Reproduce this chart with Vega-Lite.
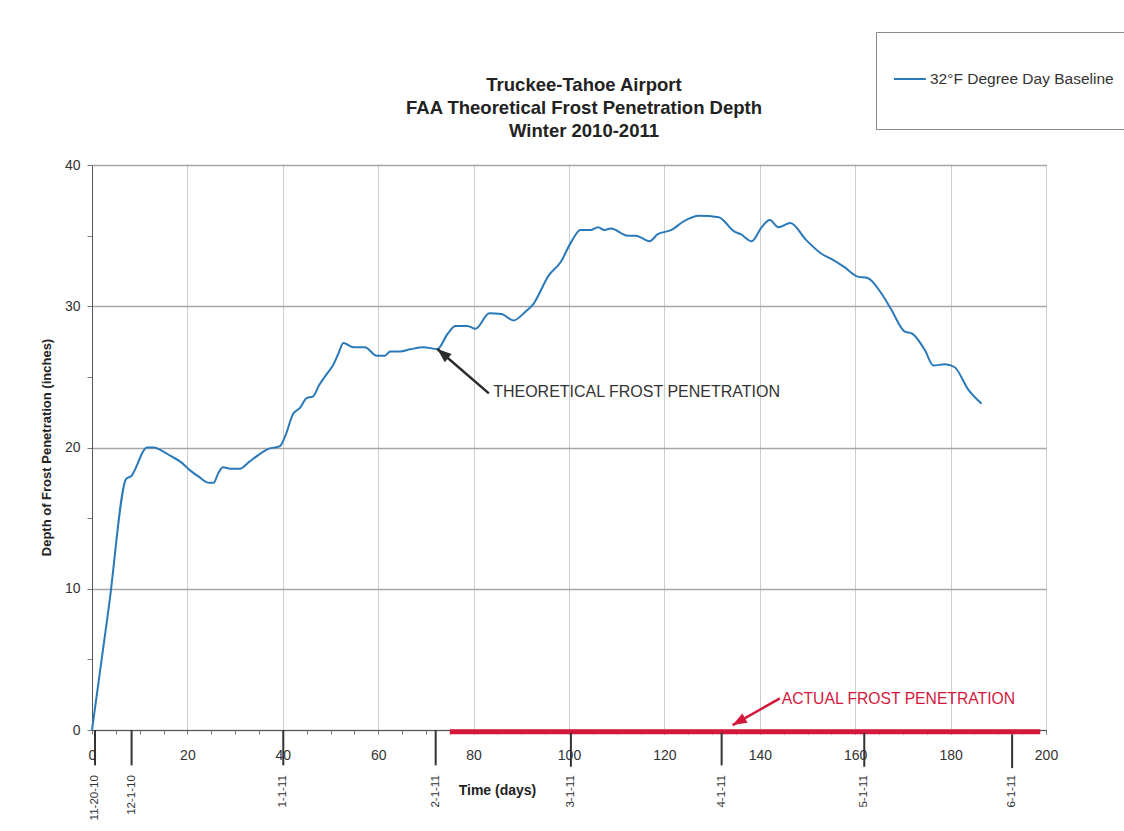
{
  "$schema": "https://vega.github.io/schema/vega-lite/v6.json",
  "width": 954,
  "height": 565,
  "autosize": "none",
  "padding": {"left": 92, "top": 165, "right": 78, "bottom": 136},
  "background": "white",
  "config": {
    "font": "Liberation Sans",
    "view": {"stroke": "#9a9a9a", "strokeWidth": 1}
  },
  "title": {
    "text": ["Truckee-Tahoe Airport", "FAA Theoretical Frost Penetration Depth", "Winter 2010-2011"],
    "fontSize": 18.5,
    "fontWeight": "bold",
    "color": "#222222",
    "lineHeight": 23,
    "anchor": "middle",
    "dx": 15,
    "dy": 133,
    "offset": 24
  },
  "encoding": {
    "x": {
      "field": "d",
      "type": "quantitative",
      "scale": {"domain": [0, 200], "nice": false, "zero": false},
      "axis": {
        "values": [0,5,10,15,20,25,30,35,40,45,50,55,60,65,70,75,80,85,90,95,100,105,110,115,120,125,130,135,140,145,150,155,160,165,170,175,180,185,190,195,200],
        "labelExpr": "datum.value % 20 === 0 ? datum.label : ''",
        "gridColor": {"condition": {"test": "datum.value % 20 === 0", "value": "#cccccc"}, "value": "rgba(0,0,0,0)"},
        "tickSize": 4,
        "tickColor": "#777777",
        "domainColor": "#555555",
        "labelFontSize": 14,
        "labelColor": "#333333",
        "labelPadding": 14,
        "labelFlush": false,
        "labelOverlap": false,
        "title": "Time (days)",
        "titleFontSize": 14,
        "titleFontWeight": "bold",
        "titleColor": "#222222",
        "titleX": 405,
        "titleY": 60,
        "titleAlign": "center",
        "titleBaseline": "middle"
      }
    },
    "y": {
      "field": "v",
      "type": "quantitative",
      "scale": {"domain": [0, 40], "nice": false, "zero": false},
      "axis": {
        "values": [0,5,10,15,20,25,30,35,40],
        "labelExpr": "datum.value % 10 === 0 ? datum.label : ''",
        "gridColor": {"condition": {"test": "datum.value % 10 === 0", "value": "#a6a6a6"}, "value": "rgba(0,0,0,0)"},
        "gridWidth": 1.3,
        "tickSize": 5,
        "tickColor": "#777777",
        "domainColor": "#555555",
        "labelFontSize": 14,
        "labelColor": "#333333",
        "labelPadding": 7,
        "title": "Depth of Frost Penetration (inches)",
        "titleFontSize": 13,
        "titleFontWeight": "bold",
        "titleColor": "#222222",
        "titleAngle": 270,
        "titleX": -46,
        "titleY": 282,
        "titleAlign": "center",
        "titleBaseline": "middle"
      }
    }
  },
  "layer": [
    {
      "data": {"values": [
        {"d": 0, "v": 0, "series": "32°F Degree Day Baseline"},
        {"d": 3.6, "v": 8.9, "series": "32°F Degree Day Baseline"},
        {"d": 7.2, "v": 17.8, "series": "32°F Degree Day Baseline"},
        {"d": 8.3, "v": 18.0, "series": "32°F Degree Day Baseline"},
        {"d": 9.5, "v": 18.8, "series": "32°F Degree Day Baseline"},
        {"d": 10.5, "v": 19.6, "series": "32°F Degree Day Baseline"},
        {"d": 11.5, "v": 20.0, "series": "32°F Degree Day Baseline"},
        {"d": 13, "v": 20.0, "series": "32°F Degree Day Baseline"},
        {"d": 14.5, "v": 19.8, "series": "32°F Degree Day Baseline"},
        {"d": 16.5, "v": 19.4, "series": "32°F Degree Day Baseline"},
        {"d": 18.5, "v": 19.0, "series": "32°F Degree Day Baseline"},
        {"d": 20.5, "v": 18.4, "series": "32°F Degree Day Baseline"},
        {"d": 22.5, "v": 17.9, "series": "32°F Degree Day Baseline"},
        {"d": 24.5, "v": 17.5, "series": "32°F Degree Day Baseline"},
        {"d": 25.5, "v": 17.5, "series": "32°F Degree Day Baseline"},
        {"d": 26.5, "v": 18.2, "series": "32°F Degree Day Baseline"},
        {"d": 27.5, "v": 18.6, "series": "32°F Degree Day Baseline"},
        {"d": 29, "v": 18.5, "series": "32°F Degree Day Baseline"},
        {"d": 31, "v": 18.5, "series": "32°F Degree Day Baseline"},
        {"d": 33, "v": 19.0, "series": "32°F Degree Day Baseline"},
        {"d": 35, "v": 19.5, "series": "32°F Degree Day Baseline"},
        {"d": 37, "v": 19.9, "series": "32°F Degree Day Baseline"},
        {"d": 39.4, "v": 20.1, "series": "32°F Degree Day Baseline"},
        {"d": 40.5, "v": 20.8, "series": "32°F Degree Day Baseline"},
        {"d": 42.2, "v": 22.4, "series": "32°F Degree Day Baseline"},
        {"d": 43.6, "v": 22.8, "series": "32°F Degree Day Baseline"},
        {"d": 45, "v": 23.5, "series": "32°F Degree Day Baseline"},
        {"d": 46.3, "v": 23.6, "series": "32°F Degree Day Baseline"},
        {"d": 47.6, "v": 24.4, "series": "32°F Degree Day Baseline"},
        {"d": 49.2, "v": 25.2, "series": "32°F Degree Day Baseline"},
        {"d": 50.5, "v": 25.8, "series": "32°F Degree Day Baseline"},
        {"d": 51.6, "v": 26.6, "series": "32°F Degree Day Baseline"},
        {"d": 52.7, "v": 27.4, "series": "32°F Degree Day Baseline"},
        {"d": 54.8, "v": 27.1, "series": "32°F Degree Day Baseline"},
        {"d": 57.2, "v": 27.1, "series": "32°F Degree Day Baseline"},
        {"d": 59.7, "v": 26.5, "series": "32°F Degree Day Baseline"},
        {"d": 61.4, "v": 26.5, "series": "32°F Degree Day Baseline"},
        {"d": 62.5, "v": 26.8, "series": "32°F Degree Day Baseline"},
        {"d": 64.6, "v": 26.8, "series": "32°F Degree Day Baseline"},
        {"d": 66.7, "v": 26.95, "series": "32°F Degree Day Baseline"},
        {"d": 69.5, "v": 27.1, "series": "32°F Degree Day Baseline"},
        {"d": 72.4, "v": 26.97, "series": "32°F Degree Day Baseline"},
        {"d": 74.6, "v": 28.07, "series": "32°F Degree Day Baseline"},
        {"d": 76.2, "v": 28.6, "series": "32°F Degree Day Baseline"},
        {"d": 78.7, "v": 28.6, "series": "32°F Degree Day Baseline"},
        {"d": 80.4, "v": 28.4, "series": "32°F Degree Day Baseline"},
        {"d": 83.3, "v": 29.5, "series": "32°F Degree Day Baseline"},
        {"d": 85.8, "v": 29.45, "series": "32°F Degree Day Baseline"},
        {"d": 88.4, "v": 29.0, "series": "32°F Degree Day Baseline"},
        {"d": 90.8, "v": 29.6, "series": "32°F Degree Day Baseline"},
        {"d": 92.4, "v": 30.1, "series": "32°F Degree Day Baseline"},
        {"d": 95.8, "v": 32.2, "series": "32°F Degree Day Baseline"},
        {"d": 98.3, "v": 33.15, "series": "32°F Degree Day Baseline"},
        {"d": 100.3, "v": 34.45, "series": "32°F Degree Day Baseline"},
        {"d": 102.4, "v": 35.4, "series": "32°F Degree Day Baseline"},
        {"d": 104.5, "v": 35.4, "series": "32°F Degree Day Baseline"},
        {"d": 106.1, "v": 35.6, "series": "32°F Degree Day Baseline"},
        {"d": 107.4, "v": 35.4, "series": "32°F Degree Day Baseline"},
        {"d": 108.8, "v": 35.5, "series": "32°F Degree Day Baseline"},
        {"d": 112.3, "v": 35.0, "series": "32°F Degree Day Baseline"},
        {"d": 114.0, "v": 35.0, "series": "32°F Degree Day Baseline"},
        {"d": 116.9, "v": 34.6, "series": "32°F Degree Day Baseline"},
        {"d": 118.6, "v": 35.1, "series": "32°F Degree Day Baseline"},
        {"d": 121.5, "v": 35.4, "series": "32°F Degree Day Baseline"},
        {"d": 124.0, "v": 36.0, "series": "32°F Degree Day Baseline"},
        {"d": 127.3, "v": 36.4, "series": "32°F Degree Day Baseline"},
        {"d": 131.4, "v": 36.3, "series": "32°F Degree Day Baseline"},
        {"d": 134.6, "v": 35.3, "series": "32°F Degree Day Baseline"},
        {"d": 136.0, "v": 35.1, "series": "32°F Degree Day Baseline"},
        {"d": 138.3, "v": 34.6, "series": "32°F Degree Day Baseline"},
        {"d": 140.4, "v": 35.6, "series": "32°F Degree Day Baseline"},
        {"d": 142.1, "v": 36.1, "series": "32°F Degree Day Baseline"},
        {"d": 143.9, "v": 35.6, "series": "32°F Degree Day Baseline"},
        {"d": 146.4, "v": 35.9, "series": "32°F Degree Day Baseline"},
        {"d": 149.7, "v": 34.7, "series": "32°F Degree Day Baseline"},
        {"d": 153.0, "v": 33.7, "series": "32°F Degree Day Baseline"},
        {"d": 154.7, "v": 33.4, "series": "32°F Degree Day Baseline"},
        {"d": 157.6, "v": 32.8, "series": "32°F Degree Day Baseline"},
        {"d": 160.5, "v": 32.1, "series": "32°F Degree Day Baseline"},
        {"d": 162.6, "v": 32.0, "series": "32°F Degree Day Baseline"},
        {"d": 165.5, "v": 30.9, "series": "32°F Degree Day Baseline"},
        {"d": 167.5, "v": 29.8, "series": "32°F Degree Day Baseline"},
        {"d": 170.4, "v": 28.2, "series": "32°F Degree Day Baseline"},
        {"d": 171.9, "v": 28.07, "series": "32°F Degree Day Baseline"},
        {"d": 174.6, "v": 26.9, "series": "32°F Degree Day Baseline"},
        {"d": 176.4, "v": 25.8, "series": "32°F Degree Day Baseline"},
        {"d": 178.8, "v": 25.9, "series": "32°F Degree Day Baseline"},
        {"d": 180.8, "v": 25.7, "series": "32°F Degree Day Baseline"},
        {"d": 183.7, "v": 24.1, "series": "32°F Degree Day Baseline"},
        {"d": 186.5, "v": 23.1, "series": "32°F Degree Day Baseline"}
      ]},
      "mark": {"type": "line", "strokeWidth": 2, "interpolate": "monotone"},
      "encoding": {
        "color": {
          "field": "series",
          "type": "nominal",
          "scale": {"range": ["#2a79b9"]},
          "legend": {
            "orient": "none",
            "legendX": 784,
            "legendY": -133,
            "title": null,
            "padding": 17,
            "strokeColor": "#8a8a8a",
            "fillColor": "white",
            "symbolType": "M-1,0H0.1M0,1",
            "symbolSize": 3364,
            "symbolStrokeWidth": 2,
            "labelFontSize": 15.5,
            "labelOffset": -23,
            "labelColor": "#333333",
            "labelLimit": 400
          }
        }
      }
    },
    {
      "data": {"values": [{"d": 75, "v": -0.12}, {"d": 198.8, "v": -0.12}]},
      "mark": {"type": "line", "strokeWidth": 5, "color": "#d3183c"},
      "encoding": {}
    },
    {
      "data": {"values": [
        {"label": "11-20-10", "d": 0.63, "v": 0, "v2": -2.5},
        {"label": "12-1-10", "d": 8.3, "v": 0, "v2": -2.5},
        {"label": "1-1-11", "d": 40.1, "v": 0, "v2": -2.5},
        {"label": "2-1-11", "d": 72.05, "v": 0, "v2": -2.5},
        {"label": "3-1-11", "d": 100.4, "v": -0.2, "v2": -2.6},
        {"label": "4-1-11", "d": 132.0, "v": -0.2, "v2": -2.5},
        {"label": "5-1-11", "d": 161.9, "v": -0.2, "v2": -2.6},
        {"label": "6-1-11", "d": 192.9, "v": -0.3, "v2": -2.7}
      ]},
      "layer": [
        {
          "mark": {"type": "rule", "color": "#333333", "strokeWidth": 2},
          "encoding": {"y2": {"field": "v2"}}
        },
        {
          "mark": {"type": "text", "angle": 270, "align": "right", "baseline": "middle", "fontSize": 11.5, "color": "#333333"},
          "encoding": {
            "y": {"field": "v3", "type": "quantitative"},
            "text": {"field": "label"}
          },
          "transform": [{"calculate": "-3.2", "as": "v3"}]
        }
      ]
    },
    {
      "data": {"values": [{"d": 72.4, "v": 26.97, "d2": 83.2, "v2": 23.83}]},
      "mark": {"type": "rule", "color": "#2b2b2b", "strokeWidth": 2.5},
      "encoding": {"x2": {"field": "d2"}, "y2": {"field": "v2"}}
    },
    {
      "data": {"values": [{"d": 72.4, "v": 26.97}]},
      "mark": {"type": "point", "shape": "M0,0L-0.75,2L0.75,2Z", "size": 200, "filled": true, "color": "#2b2b2b", "opacity": 1, "angle": 310},
      "encoding": {}
    },
    {
      "data": {"values": [{"d": 134.3, "v": 0.35, "d2": 144.2, "v2": 2.24}]},
      "mark": {"type": "rule", "color": "#d3183c", "strokeWidth": 2.5},
      "encoding": {"x2": {"field": "d2"}, "y2": {"field": "v2"}}
    },
    {
      "data": {"values": [{"d": 134.3, "v": 0.35}]},
      "mark": {"type": "point", "shape": "M0,0L-0.75,2L0.75,2Z", "size": 200, "filled": true, "color": "#d3183c", "opacity": 1, "angle": 240.6},
      "encoding": {}
    },
    {
      "data": {"values": [{"d": 84.1, "v": 23.9, "note": "THEORETICAL  FROST PENETRATION"}]},
      "mark": {"type": "text", "align": "left", "baseline": "middle", "fontSize": 16, "color": "#333333"},
      "encoding": {"text": {"field": "note"}}
    },
    {
      "data": {"values": [{"d": 144.6, "v": 2.19, "note": "ACTUAL FROST PENETRATION"}]},
      "mark": {"type": "text", "align": "left", "baseline": "middle", "fontSize": 15.7, "color": "#d3183c"},
      "encoding": {"text": {"field": "note"}}
    }
  ]
}
